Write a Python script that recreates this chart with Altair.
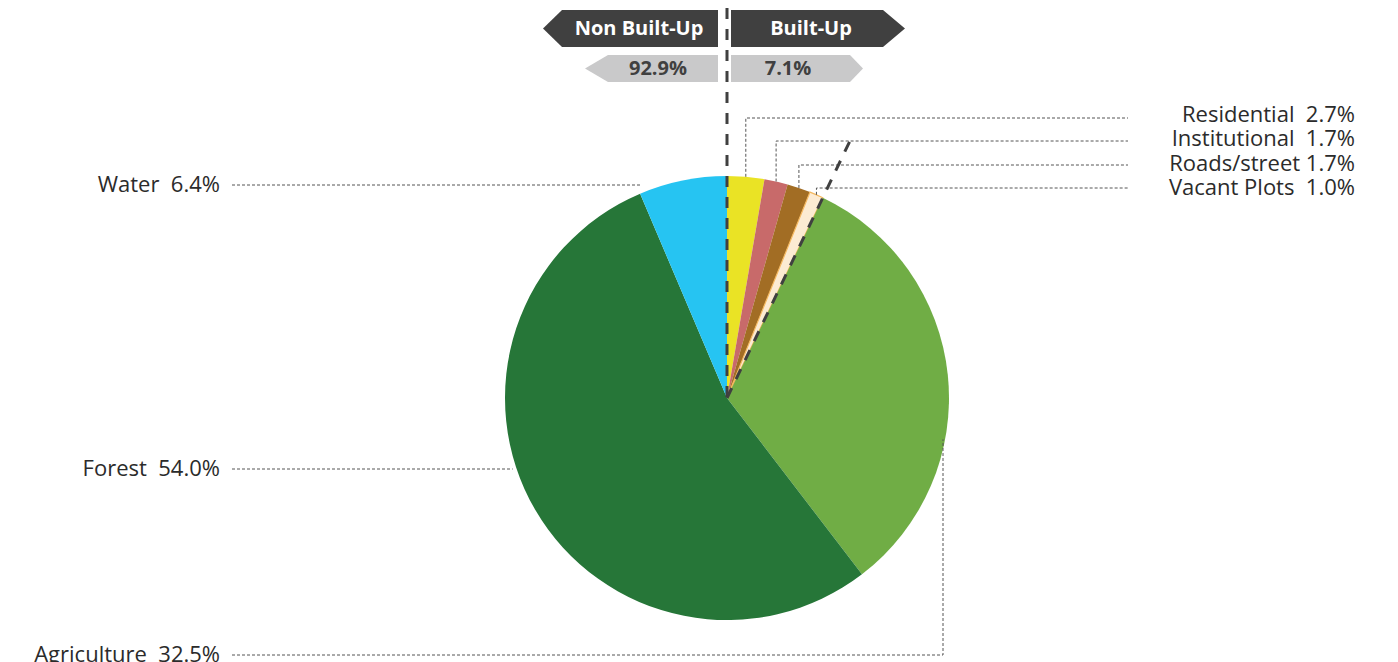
import math
import altair as alt
import pandas as pd

# ---------------- data ----------------
categories = ["Residential", "Institutional", "Roads/street", "Vacant Plots",
              "Agriculture", "Forest", "Water"]
shares = [2.7, 1.7, 1.7, 1.0, 32.5, 54.0, 6.4]
built_up = ["Residential", "Institutional", "Roads/street", "Vacant Plots"]
label_sep = ["\u00a0 ", "\u00a0 ", " ", "\u00a0 ", "\u00a0 ", "\u00a0 ", "\u00a0 "]
colors = ["#EAE325", "#C86A6A", "#A26D24", "#FCEBD3", "#70AD45", "#267638", "#26C4F2"]
group_names = ["Non Built-Up", "Built-Up"]

# ---------------- layout (page pixels) ----------------
W, H = 1382, 654
X0, Y0 = 8, 8
CX, CY, R = 727, 398, 222
FONT = "Open Sans"
TXT = "#2B2B2B"
DARK = "#404040"
LIGHT = "#C9C9CA"

xs = alt.Scale(domain=[X0, X0 + W], nice=False, zero=False)
ys = alt.Scale(domain=[Y0, Y0 + H], reverse=True, nice=False, zero=False)


def X(field="x"):
    return alt.X(f"{field}:Q", scale=xs, axis=None)


def Y(field="y"):
    return alt.Y(f"{field}:Q", scale=ys, axis=None)


# cumulative fractions (clockwise from 12 o'clock)
starts, acc = [], 0.0
for v in shares:
    starts.append(acc)
    acc += v
total = acc


def polar(frac, r):
    a = 2 * math.pi * frac
    return CX + r * math.sin(a), CY - r * math.cos(a)


def mid(i):
    return (starts[i] + shares[i] / 2) / total


# ---------------- pie ----------------
pie_df = pd.DataFrame({"category": categories, "share": shares,
                       "order": list(range(len(categories)))})
pie = alt.Chart(pie_df).mark_arc(outerRadius=R, stroke="#F4B860").encode(
    theta=alt.Theta("share:Q", stack=True),
    color=alt.Color("category:N", scale=alt.Scale(domain=categories, range=colors), legend=None),
    order=alt.Order("order:Q"),
    strokeWidth=alt.condition("datum.category == 'Vacant Plots'", alt.value(1.2), alt.value(0)),
    x=alt.value(CX - X0),
    y=alt.value(CY - Y0),
)

# ---------------- leader lines ----------------
rows = []
right_label_y = [115, 139, 164, 188]
RIGHT_LINE_END = 1128
RIGHT_TEXT_X = 1355
for k, name in enumerate(built_up):
    i = categories.index(name)
    px, py = polar(mid(i), R)
    ly = right_label_y[k] + 3 - k
    rows += [(name, 0, px, py), (name, 1, px, ly), (name, 2, RIGHT_LINE_END, ly)]

LEFT_TEXT_X = 220
LEFT_LINE_START = 232
# Water: to the water/forest boundary
iw = categories.index("Water")
bx, by = polar(starts[iw] / total, R)
water_y = 185
rows += [("Water", 0, LEFT_LINE_START, water_y), ("Water", 1, bx, water_y)]
# Forest: to the pie edge
forest_y = 469
fx = CX - math.sqrt(R ** 2 - (forest_y - CY) ** 2)
rows += [("Forest", 0, LEFT_LINE_START, forest_y), ("Forest", 1, fx - 4, forest_y)]
# Agriculture: along the bottom then up to the pie edge
agri_y = 655
agri_x = 943
ay = CY + math.sqrt(R ** 2 - (agri_x - CX) ** 2) - 10
rows += [("Agriculture", 0, LEFT_LINE_START, agri_y), ("Agriculture", 1, agri_x, agri_y),
         ("Agriculture", 2, agri_x, ay)]

lead_df = pd.DataFrame(rows, columns=["grp", "seq", "x", "y"])
leaders = alt.Chart(lead_df).mark_line(strokeDash=[3, 2], strokeWidth=1, color="#555555").encode(
    x=X(), y=Y(), detail="grp:N", order="seq:Q")

# ---------------- divider lines (built-up / non built-up) ----------------
built_frac = sum(shares[categories.index(n)] for n in built_up) / total
dx2, dy2 = polar(built_frac, 284)
div_df = pd.DataFrame([("v", 0, CX, Y0), ("v", 1, CX, CY),
                       ("d", 0, CX, CY), ("d", 1, dx2, dy2)],
                      columns=["grp", "seq", "x", "y"])
dividers = alt.Chart(div_df).mark_line(strokeDash=[11, 10], strokeWidth=3, color=DARK).encode(
    x=X(), y=Y(), detail="grp:N", order="seq:Q")

# ---------------- labels ----------------
lab_right = pd.DataFrame({
    "text": [f"{n}{label_sep[categories.index(n)]}{shares[categories.index(n)]:.1f}%" for n in built_up],
    "x": [RIGHT_TEXT_X] * 4, "y": right_label_y})
left_names = ["Water", "Forest", "Agriculture"]
lab_left = pd.DataFrame({
    "text": [f"{n}{label_sep[categories.index(n)]}{shares[categories.index(n)]:.1f}%" for n in left_names],
    "x": [LEFT_TEXT_X] * 3, "y": [water_y, forest_y, agri_y]})

txt_right = alt.Chart(lab_right).mark_text(align="right", baseline="middle", font=FONT,
                                           fontSize=22, color=TXT).encode(x=X(), y=Y(), text="text:N")
txt_left = alt.Chart(lab_left).mark_text(align="right", baseline="middle", font=FONT,
                                         fontSize=22, color=TXT).encode(x=X(), y=Y(), text="text:N")

# ---------------- banners ----------------
MIDX = 724.5
ROW1, ROW2 = 28.5, 68.5
SIZE = 200 ** 2  # custom path unit = 100 px


def banner(path, yrow, color):
    d = pd.DataFrame({"x": [MIDX], "y": [yrow]})
    return alt.Chart(d).mark_point(shape=path, filled=True, size=SIZE, color=color,
                                   opacity=1, strokeWidth=0).encode(x=X(), y=Y())


b_non = banner("M -1.815 0 L -1.625 -0.185 L -0.065 -0.185 L -0.065 0.185 L -1.625 0.185 Z", ROW1, DARK)
b_bu = banner("M 0.065 -0.185 L 1.585 -0.185 L 1.805 0 L 1.585 0.185 L 0.065 0.185 Z", ROW1, DARK)
b_non2 = banner("M -1.395 0 L -1.165 -0.135 L -0.065 -0.135 L -0.065 0.135 L -1.165 0.135 Z", ROW2, LIGHT)
b_bu2 = banner("M 0.065 -0.135 L 1.255 -0.135 L 1.385 0 L 1.255 0.135 L 0.065 0.135 Z", ROW2, LIGHT)

non_share = sum(v for c, v in zip(categories, shares) if c not in built_up)
bu_share = sum(v for c, v in zip(categories, shares) if c in built_up)

head_df = pd.DataFrame({"text": group_names, "x": [639, 811], "y": [ROW1, ROW1]})
val_df = pd.DataFrame({"text": [f"{non_share:.1f}%", f"{bu_share:.1f}%"], "x": [658, 788], "y": [ROW2, ROW2]})
head_txt = alt.Chart(head_df).mark_text(align="center", baseline="middle", font=FONT, fontSize=20,
                                        fontWeight="bold", color="white").encode(x=X(), y=Y(), text="text:N")
val_txt = alt.Chart(val_df).mark_text(align="center", baseline="middle", font=FONT, fontSize=20,
                                      fontWeight="bold", color=DARK).encode(x=X(), y=Y(), text="text:N")

chart = alt.layer(
    pie, leaders, dividers, txt_right, txt_left,
    b_non, b_bu, b_non2, b_bu2, head_txt, val_txt,
).properties(
    width=W, height=H, padding=0,
    autosize=alt.AutoSizeParams(type="none"),
).configure_view(stroke=None)

chart.save("out.html", embed_options={"renderer": "svg", "actions": False})
